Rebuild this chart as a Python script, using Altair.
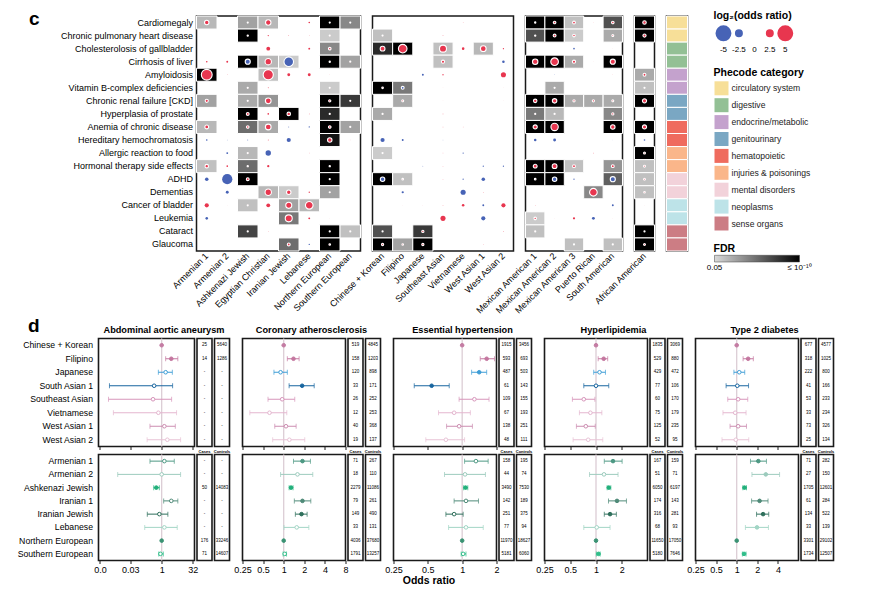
import altair as alt
import pandas as pd

FONT = "Liberation Sans"
RED = "#e8364f"
BLUE = "#4763b6"
FRAME = "#1a1a1a"
REFLINE = "#dccdd5"

# ---------------- panel c data ----------------
phenotypes = ["Cardiomegaly", "Chronic pulmonary heart disease", "Cholesterolosis of gallbladder",
              "Cirrhosis of liver", "Amyloidosis", "Vitamin B-complex deficiencies",
              "Chronic renal failure [CKD]", "Hyperplasia of prostate", "Anemia of chronic disease",
              "Hereditary hemochromatosis", "Allergic reaction to food", "Hormonal therapy side effects",
              "ADHD", "Dementias", "Cancer of bladder", "Leukemia", "Cataract", "Glaucoma"]
phecode_of_row = ["circulatory system", "circulatory system", "digestive", "digestive",
                  "endocrine/metabolic", "endocrine/metabolic", "genitourinary", "genitourinary",
                  "hematopoietic", "hematopoietic", "injuries & poisonings", "injuries & poisonings",
                  "mental disorders", "mental disorders", "neoplasms", "neoplasms",
                  "sense organs", "sense organs"]
category_names = ["circulatory system", "digestive", "endocrine/metabolic", "genitourinary",
                  "hematopoietic", "injuries & poisonings", "mental disorders", "neoplasms", "sense organs"]
category_colors = ["#f7df98", "#93c095", "#c4a2cd", "#7aa7c3", "#ef6b5e", "#fab68a", "#f2d2da",
                   "#bde3e8", "#cc7d84"]

# -log10(FDR) shading (0 = not significant) and log2(odds ratio) per cell
g1_cols = ["Armenian 1", "Armenian 2", "Ashkenazi Jewish", "Egyptian Christian", "Iranian Jewish",
           "Lebanese", "Northern European", "Southern European"]
g1_fdr = [[2.5, 0, 3.3, 2.5, 0, 0, 10, 4.3],
          [0, 0, 10, 0, 0, 0, 1.8, 0],
          [0, 0, 0, 0, 0, 0, 4.3, 0],
          [0, 0, 10, 2.5, 1.8, 0, 10, 3.3],
          [10, 0, 0, 2.2, 0, 0, 0, 0],
          [0, 0, 3.0, 0, 0, 0, 1.8, 0],
          [3.3, 0, 3.0, 3.8, 0, 0, 10, 7.6],
          [0, 0, 10, 0, 10, 0, 8.3, 0],
          [2.5, 0, 5.4, 3.0, 0, 0, 10, 3.3],
          [0, 0, 0, 0, 0, 0, 9.4, 0],
          [0, 0, 2.5, 0, 0, 0, 0, 0],
          [2.2, 0, 5.4, 0, 0, 0, 10, 0],
          [0, 0, 10, 0, 0, 0, 10, 0],
          [0, 0, 0, 2.5, 1.8, 0, 3.3, 0],
          [0, 0, 2.2, 0, 3.3, 2.5, 0, 0],
          [0, 0, 0, 0, 4.9, 0, 0, 0],
          [0, 0, 7.1, 0, 0, 0, 10, 2.2],
          [0, 0, 0, 0, 5.4, 0, 10, 0]]
g1_lor = [[1.4, 0, 0.35, 1.7, 0, 0.5, 0.35, 0.35],
          [0, 0, 0.4, 0.4, 0.2, 0.15, 0.35, 0],
          [0, 0, 0, 1.2, 0, 0.6, 0.8, 0],
          [0.5, 0.6, -1.6, 2.0, -3.0, 0, 0.4, 0.35],
          [3.4, 0.15, 0, 3.2, 0.9, 0.9, 0.1, 0],
          [0, 0, 0.35, 0.3, 0, 0, 0.35, 0],
          [1.0, 0, 0.35, 1.8, 0, 0, 0.7, 0.35],
          [0, 0, 0.9, 0.5, 1.1, 0.2, 0.35, 0],
          [1.2, 0, 0.8, 1.8, -0.3, -0.4, 0.8, 0.35],
          [-0.5, -0.2, -0.3, 0.3, -1.3, 0, 1.4, 0.1],
          [0, -0.6, 0.35, -1.7, 0, 0.15, 0, 0],
          [1.1, 0.5, 0.4, 0.7, 0, 0, 0.4, 0],
          [-1.1, -3.2, 0.9, 0, 0, 0, 0.35, 0],
          [0, -0.9, 0, 2.0, 1.4, 0.4, 0.35, 0],
          [1.3, 0.1, 0.35, 1.2, 1.9, 2.4, 0, 0],
          [-0.8, 0, 0, 0, 2.2, 0.6, 0.1, 0],
          [0, 0, 0.35, 0.15, 0, 0, 0.35, 0.35],
          [0, 0, 0, 0, 0.9, -0.4, 0.5, 0]]

g2_cols = ["Chinese + Korean", "Filipino", "Japanese", "Southeast Asian", "Vietnamese",
           "West Asian 1", "West Asian 2"]
g2_fdr = [[0, 0, 0, 0, 0, 0, 0],
          [2.2, 0, 0, 0, 0, 0, 0],
          [8.3, 10, 0, 2.2, 0, 2.5, 0],
          [0, 0, 0, 2.2, 0, 0, 0],
          [0, 0, 0, 0, 0, 0, 0],
          [10, 4.9, 0, 0, 0, 0, 0],
          [0, 3.0, 0, 0, 0, 0, 0],
          [3.0, 0, 0, 0, 0, 0, 0],
          [0, 0, 0, 0, 0, 0, 0],
          [0, 0, 0, 0, 0, 0, 0],
          [1.8, 0, 0, 0, 0, 0, 0],
          [0, 0, 0, 0, 0, 0, 0],
          [10, 2.2, 0, 0, 0, 0, 0],
          [0, 0, 0, 0, 0, 0, 0],
          [0, 0, 0, 0, 0, 0, 0],
          [0, 0, 0, 0, 0, 0, 0],
          [6.6, 0, 7.6, 0, 0, 0, 0],
          [10, 3.3, 10, 0, 0, 0, 0]]
g2_lor = [[0, 0, 0, 0, 0.15, 0, 0],
          [0.35, 0, 0, 0.2, 0, 0, 0],
          [1.5, 2.7, 0, 2.2, 0.8, 1.8, 0.4],
          [0, 0, 0, 1.0, 0, 0, -0.8],
          [0, 0, -0.6, 0.4, 0, 0, 1.6],
          [0.5, -0.9, 0, 0.1, 0, 0, 0.1],
          [0, 0.6, 0, 0.1, 0, 0, 0.1],
          [0.35, 0, 0, 0.2, 0, 0, 0],
          [0, 0, 0, 0.2, 0.15, 0, 0],
          [-1.3, -0.6, 0, -0.15, 0, 0, 0],
          [0.35, 0, 0, 0.15, -0.4, 0, 0],
          [0, 0, -0.2, 0.15, 0, -0.4, -0.4],
          [-1.4, 0.5, 0, 0.15, -0.4, -1.1, 0],
          [0, -0.7, 0, 0, -1.6, 0.2, 0],
          [0, 0.1, 0.1, 0.2, 0.8, -0.6, 1.3],
          [0, 0, 0, 1.6, 0, -1.3, 0],
          [0.35, 0, 0.7, 0, 0, 0, 0.2],
          [0.7, 0.5, 0.7, 0, 0, 0.15, 0]]

g3_cols = ["Mexican American 1", "Mexican American 2", "Mexican American 3", "Puerto Rican",
           "South American"]
g3_fdr = [[10, 10, 2.2, 0, 6.6],
          [6.6, 10, 1.8, 0, 3.0],
          [0, 0, 0, 0, 0],
          [10, 10, 3.0, 0, 10],
          [0, 0, 0, 0, 0],
          [0, 3.0, 0, 0, 0],
          [10, 10, 3.0, 3.0, 3.0],
          [4.9, 2.5, 0, 0, 4.3],
          [10, 10, 0, 0, 10],
          [0, 0, 0, 0, 0],
          [0, 0, 0, 0, 0],
          [10, 10, 2.2, 0, 3.8],
          [10, 10, 0, 0, 5.9],
          [0, 0, 0, 4.3, 0],
          [0, 0, 0, 0, 0],
          [1.8, 0, 0, 0, 0],
          [2.2, 0, 0, 0, 0],
          [0, 0, 2.2, 0, 2.2]]
g3_lor = [[0.4, 0.8, 0.9, 0.1, 0.8],
          [0.4, 0.9, 0.8, 0, 0.6],
          [0, 0, -0.5, 0, 0.1],
          [1.7, 2.4, 1.0, 0.1, 1.6],
          [0, -0.15, 0, 0, 0.1],
          [0, 0.35, 0, 0, 0],
          [1.1, 1.4, 0.7, 0.7, 0.6],
          [0.35, 0.35, 0, 0, 0.7],
          [1.3, 2.3, 0, 0, 1.4],
          [-0.8, -0.9, 0, 0, -0.1],
          [0, 0, 0, 0.2, 0],
          [1.2, 1.5, 0.9, 0, 0.9],
          [0.5, -1.4, -0.4, 0, -1.6],
          [0, 0, 0, 2.4, 0],
          [0.15, 0, 0, 0, -0.6],
          [0.8, 0.1, 0.7, -0.9, 0.1],
          [0.35, 0, 0, 0, 0],
          [0, 0, 0.35, 0, 0.35]]

g4_cols = ["African American"]
g4_fdr = [[10], [10], [0], [0], [3.0], [2.2], [10], [0], [10], [0], [10], [2.2], [2.2], [2.2],
          [0], [0], [10], [10]]
g4_lor = [[1.1], [1.0], [0], [0], [0.9], [0.35], [1.3], [0], [1.3], [-0.5], [0.6], [0.6], [0.6],
          [0.5], [0.1], [0], [0.35], [0.6]]

lor_legend_vals = [-5, -2.5, 2.5, 5]
lor_legend_ticks = [-5, -2.5, 0, 2.5, 5]
lor_legend_labels = ["-5", "-2.5", "0", "2.5", "5"]
legend_titles = ["log\u2082(odds ratio)", "Phecode category", "FDR"]
fdr_legend_labels = ["0.05", "\u2264 10\u207b\u00b9\u2070"]

# ---------------- panel d data ----------------
upper_groups = ["Chinese + Korean", "Filipino", "Japanese", "South Asian 1", "Southeast Asian",
                "Vietnamese", "West Asian 1", "West Asian 2"]
upper_colors = ["#c47ca3", "#c4769f", "#3d9dd6", "#17659f", "#d795bb", "#e4b6cf", "#cc8cb0", "#e8c3d6"]
lower_groups = ["Armenian 1", "Armenian 2", "Ashkenazi Jewish", "Iranian 1", "Iranian Jewish",
                "Lebanese", "Northern European", "Southern European"]
lower_colors = ["#4d9883", "#9ccbbd", "#22b07b", "#4f8a78", "#2e6f5b", "#a2d5c5", "#3a9273", "#30be8a"]

N = None
AAA = dict(
    up_or=[1, 2.93, 1.56, 0.43, 0.38, 0.69, 1.35, 1.88],
    up_lo=[N, 1.56, 0.69, 0.0029, 0.0026, 0.0045, 0.27, 0.196],
    up_hi=[N, 6.1, 3.3, 3.4, 3.04, 5.3, 4.6, 8.3],
    up_fill=[1, 1, 0, 0, 0, 0, 0, 0],
    up_cases=["25", "14", "-", "-", "-", "-", "-", "-"],
    up_ctrl=["5640", "1286", "-", "-", "-", "-", "-", "-"],
    lo_or=[1.35, 1.0, 0.55, 2.93, 0.77, 1.35, 1, 0.87],
    lo_lo=[0.27, 0.0073, 0.41, 1.25, 0.2, 0.15, N, 0.72],
    lo_hi=[4.1, 8.3, 0.77, 6.1, 2.0, 5.7, N, 1.2],
    lo_fill=[0, 0, 1, 0, 0, 0, 1, 0],
    lo_cases=["-", "-", "50", "-", "-", "-", "176", "71"],
    lo_ctrl=["-", "-", "14083", "-", "-", "-", "33246", "14607"])
COR = dict(
    up_or=[1, 1.39, 0.9, 1.86, 0.95, 0.62, 1.08, 1.21],
    up_lo=[N, 1.13, 0.72, 1.2, 0.59, 0.32, 0.74, 0.69],
    up_hi=[N, 1.68, 1.13, 2.79, 1.45, 1.11, 1.52, 2.03],
    up_fill=[1, 1, 0, 1, 0, 0, 0, 0],
    up_cases=["519", "158", "120", "33", "26", "12", "40", "19"],
    up_ctrl=["4845", "1203", "898", "171", "252", "253", "368", "137"],
    lo_or=[1.88, 1.59, 1.28, 1.88, 1.82, 1.55, 1, 1.035],
    lo_lo=[1.39, 0.9, 1.2, 1.43, 1.48, 1.01, N, 0.98],
    lo_hi=[2.46, 2.66, 1.37, 2.49, 2.2, 2.33, N, 1.1],
    lo_fill=[1, 0, 1, 1, 1, 0, 1, 0],
    lo_cases=["71", "18", "2279", "79", "149", "33", "4036", "1791"],
    lo_ctrl=["267", "110", "11086", "261", "490", "131", "37680", "13257"])
EH = dict(
    up_or=[1, 1.64, 1.41, 0.54, 1.28, 0.85, 0.94, 0.72],
    up_lo=[N, 1.44, 1.21, 0.38, 0.94, 0.62, 0.73, 0.48],
    up_hi=[N, 1.92, 1.64, 0.77, 1.72, 1.18, 1.23, 1.05],
    up_fill=[1, 1, 1, 1, 0, 0, 0, 0],
    up_cases=["1915", "593", "487", "61", "109", "67", "138", "48"],
    up_ctrl=["3456", "693", "503", "143", "155", "193", "251", "111"],
    lo_or=[1.32, 1.06, 1.07, 1.08, 0.85, 1.08, 1, 1.02],
    lo_lo=[1.05, 0.7, 1.03, 0.85, 0.72, 0.76, N, 0.98],
    lo_hi=[1.69, 1.6, 1.12, 1.39, 1.02, 1.53, N, 1.08],
    lo_fill=[0, 0, 1, 0, 0, 0, 1, 0],
    lo_cases=["158", "44", "3490", "142", "251", "77", "11970", "5181"],
    lo_ctrl=["195", "74", "7530", "189", "375", "94", "18627", "6060"])
HL = dict(
    up_or=[1, 1.23, 1.1, 1.0, 0.72, 0.86, 0.76, 0.81],
    up_lo=[N, 1.06, 0.94, 0.72, 0.53, 0.64, 0.59, 0.54],
    up_hi=[N, 1.37, 1.29, 1.41, 0.97, 1.17, 0.98, 1.2],
    up_fill=[1, 1, 0, 0, 0, 0, 0, 0],
    up_cases=["1835", "529", "429", "77", "60", "75", "125", "52"],
    up_ctrl=["3069", "880", "472", "106", "170", "179", "235", "95"],
    lo_or=[1.58, 1.24, 1.41, 1.76, 1.46, 1.02, 1, 1.07],
    lo_lo=[1.25, 0.84, 1.35, 1.4, 1.25, 0.72, N, 1.01],
    lo_hi=[2.02, 1.81, 1.49, 2.27, 1.73, 1.46, N, 1.12],
    lo_fill=[1, 0, 1, 1, 1, 0, 1, 1],
    lo_cases=["167", "51", "6050", "174", "316", "68", "11650", "5180"],
    lo_ctrl=["159", "71", "6197", "143", "281", "93", "17050", "7646"])
T2D = dict(
    up_or=[1, 1.47, 1.09, 1.02, 1.05, 0.95, 1.05, 0.97],
    up_lo=[N, 1.24, 0.91, 0.7, 0.74, 0.63, 0.8, 0.61],
    up_hi=[N, 1.75, 1.31, 1.49, 1.45, 1.37, 1.39, 1.5],
    up_fill=[1, 1, 0, 0, 0, 0, 0, 0],
    up_cases=["677", "318", "222", "41", "53", "33", "73", "25"],
    up_ctrl=["4577", "1025", "800", "166", "233", "234", "326", "134"],
    lo_or=[2.07, 2.66, 1.3, 2.16, 2.43, 1.98, 1, 1.28],
    lo_lo=[1.59, 1.67, 1.23, 1.65, 1.95, 1.34, N, 1.21],
    lo_hi=[2.72, 4.23, 1.39, 2.87, 2.94, 2.91, N, 1.37],
    lo_fill=[1, 1, 1, 1, 1, 1, 1, 1],
    lo_cases=["71", "27", "1705", "61", "134", "33", "3301", "1734"],
    lo_ctrl=["282", "150", "12601", "284", "522", "139", "29102", "12507"])

disease_names = ["Abdominal aortic aneurysm", "Coronary atherosclerosis", "Essential hypertension",
                 "Hyperlipidemia", "Type 2 diabetes"]
disease_data = [AAA, COR, EH, HL, T2D]
disease_domains = [[0.00085, 39.4], [0.25, 8], [0.25, 2], [0.25, 4], [0.25, 8]]
disease_ticks = [[0.001, 0.03, 1, 32], [0.25, 0.5, 1, 2, 4, 8], [0.25, 0.5, 1, 2], [0.25, 0.5, 1, 2],
                 [0.25, 0.5, 1, 2, 4]]

# ---------------- helpers ----------------
IND = dict(color="independent", fill="independent", stroke="independent", size="independent")
size_scale = alt.Scale(type="pow", exponent=2, domain=[0, 5], range=[0, 254])
sign_scale = alt.Scale(domain=["pos", "neg"], range=[RED, BLUE])
fdr_scale = alt.Scale(domain=[1.3, 10], range=["#d9d9d9", "#000000"], clamp=True)
H_C = 235
COLSP = 2.5
X0 = 10  # page x where each row's leading blank begins


def frame(w=1.5):
    return alt.ViewBackground(stroke=FRAME, strokeWidth=w)


def at(px):
    """scale placing the single value 0 at a given pixel offset"""
    return alt.Scale(domain=[0, 1], range=[px, px + 1])


def blank(width, height=1):
    return alt.Chart(pd.DataFrame({"a": [0]})).mark_point(opacity=0).properties(width=width, height=height)


def label_layer(text, x, y, size, align="center", weight="bold"):
    return alt.Chart(pd.DataFrame({"t": [text], "z": [0]})).mark_text(
        align=align, baseline="alphabetic", fontSize=size, fontWeight=weight, color="black").encode(
        x=alt.X("z:Q", scale=at(x), axis=None), y=alt.Y("z:Q", scale=at(y), axis=None), text="t:N")


def lead(width, height, top, letter=None, lx=0, ly=0):
    anchor = alt.Chart(pd.DataFrame({"a": [0], "b": [1]})).mark_rect(opacity=0).encode(
        y=alt.Y("a:Q", scale=alt.Scale(domain=[0, 1], range=[top, height]), axis=None), y2="b:Q")
    layers = [anchor]
    if letter is not None:
        layers.append(label_layer(letter, lx, ly, 19, align="left"))
    return alt.layer(*layers).resolve_scale(x="independent", y="independent").properties(
        width=width, height=height)


def cell_table(cols, fdr, lor):
    recs = []
    for i, ph in enumerate(phenotypes):
        for j, col in enumerate(cols):
            recs.append({"row": ph, "col": col, "fdr": fdr[i][j], "lor": lor[i][j]})
    return pd.DataFrame(recs)


def group_chart(cols, fdr, lor, width, show_y):
    df = cell_table(cols, fdr, lor)
    xenc = alt.X("col:N", scale=alt.Scale(domain=cols, paddingInner=0, paddingOuter=0),
                 axis=alt.Axis(title=None, labelAngle=315, labelAlign="right", labelBaseline="middle",
                               ticks=False, domain=False, labelPadding=3, labelFontSize=9,
                               labelColor="black"))
    ysc = alt.Scale(domain=phenotypes, paddingInner=0, paddingOuter=0)
    if show_y:
        yenc = alt.Y("row:N", scale=ysc,
                     axis=alt.Axis(title=None, ticks=False, domain=False, labelPadding=4,
                                   labelFontSize=9, labelColor="black", labelLimit=300))
    else:
        yenc = alt.Y("row:N", scale=ysc, axis=None)
    base = alt.Chart(df)
    rect = base.transform_filter("datum.fdr > 0").mark_rect(stroke="white", strokeWidth=1).encode(
        x=xenc, y=yenc, fill=alt.Fill("fdr:Q", scale=fdr_scale, legend=None))
    dots = base.transform_filter("datum.lor != 0").transform_calculate(
        mag="abs(datum.lor)", sgn="datum.lor > 0 ? 'pos' : 'neg'"
    ).mark_circle(opacity=1, stroke="white").encode(
        x=xenc, y=yenc,
        size=alt.Size("mag:Q", scale=size_scale, legend=None),
        color=alt.Color("sgn:N", scale=sign_scale, legend=None),
        strokeWidth=alt.condition("datum.fdr > 0", alt.value(1.1), alt.value(0)))
    return alt.layer(rect, dots).properties(width=width, height=H_C, view=frame())


g1 = group_chart(g1_cols, g1_fdr, g1_lor, 164, True)
g2 = group_chart(g2_cols, g2_fdr, g2_lor, 141, False)
g3 = group_chart(g3_cols, g3_fdr, g3_lor, 97, False)
g4 = group_chart(g4_cols, g4_fdr, g4_lor, 20, False)

strip = alt.Chart(pd.DataFrame({"row": phenotypes, "cat": phecode_of_row})).mark_rect(
    stroke="white", strokeWidth=1).encode(
    y=alt.Y("row:N", scale=alt.Scale(domain=phenotypes, paddingInner=0, paddingOuter=0), axis=None),
    fill=alt.Fill("cat:N", scale=alt.Scale(domain=category_names, range=category_colors), legend=None)
).properties(width=21, height=H_C, view=frame())

# ---------------- legend column (one view, layered) ----------------
lx = alt.Scale(domain=[-6.45, 7.3], range=[0, 85], nice=False, zero=False)
ly = at(17.3)
leg_pts = alt.Chart(pd.DataFrame({"v": lor_legend_vals, "k": [0] * 4})).transform_calculate(
    mag="abs(datum.v)", sgn="datum.v > 0 ? 'pos' : 'neg'").mark_circle(opacity=1).encode(
    x=alt.X("v:Q", scale=lx, axis=None), y=alt.Y("k:Q", scale=ly, axis=None),
    size=alt.Size("mag:Q", scale=size_scale, legend=None),
    color=alt.Color("sgn:N", scale=sign_scale, legend=None))
leg_txt = alt.Chart(pd.DataFrame({"v": lor_legend_ticks, "t": lor_legend_labels, "k": [0] * 5})).mark_text(
    dy=17, fontSize=8, color="black").encode(
    x=alt.X("v:Q", scale=lx, axis=None), y=alt.Y("k:Q", scale=ly, axis=None), text="t:N")
leg_titles = alt.Chart(pd.DataFrame({"t": legend_titles, "k": [0, 1, 2], "z": [0, 0, 0]})).mark_text(
    align="left", baseline="alphabetic", fontSize=10.5, fontWeight="bold", color="black").encode(
    x=alt.X("z:Q", scale=alt.Scale(domain=[0, 1], range=[-1, 0]), axis=None),
    y=alt.Y("k:Q", scale=alt.Scale(domain=[0, 1, 2], range=[2.5, 59.5, 235.5]), axis=None),
    text="t:N")
cat_y = alt.Scale(domain=category_names, range=[63.85, 215.95], paddingInner=0, paddingOuter=0)
cat_df = pd.DataFrame({"cat": category_names, "z": [0] * len(category_names)})
cat_sw = alt.Chart(cat_df).mark_square(size=196, opacity=1).encode(
    x=alt.X("z:Q", scale=at(7), axis=None), y=alt.Y("cat:N", scale=cat_y, axis=None),
    fill=alt.Fill("cat:N", scale=alt.Scale(domain=category_names, range=category_colors), legend=None))
cat_tx = alt.Chart(cat_df).mark_text(align="left", dx=10, fontSize=8.6, color="#222").encode(
    x=alt.X("z:Q", scale=at(7), axis=None), y=alt.Y("cat:N", scale=cat_y, axis=None), text="cat:N")
gx = alt.Scale(domain=[0, 1], range=[0, 85], nice=False, zero=False)
gy = alt.Scale(domain=[0, 1], range=[239.3, 246], nice=False, zero=False)
fdr_bar = alt.Chart(pd.DataFrame({"a": [0], "b": [1], "c": [0], "d": [1]})).mark_rect(
    color={"gradient": "linear", "x1": 0, "y1": 0, "x2": 1, "y2": 0,
           "stops": [{"offset": 0, "color": "#d9d9d9"}, {"offset": 1, "color": "#000000"}]},
    stroke="#444", strokeWidth=0.5).encode(
    x=alt.X("a:Q", scale=gx, axis=None), x2="b:Q", y=alt.Y("c:Q", scale=gy, axis=None), y2="d:Q")
fdr_txt = alt.Chart(pd.DataFrame({"p": [0, 1], "t": fdr_legend_labels, "c": [0.5, 0.5]})).mark_text(
    dy=9.5, fontSize=8, color="black").encode(
    x=alt.X("p:Q", scale=gx, axis=None), y=alt.Y("c:Q", scale=gy, axis=None), text="t:N")
legend_view = alt.layer(leg_pts, leg_txt, leg_titles, cat_sw, cat_tx, fdr_bar, fdr_txt).resolve_scale(
    x="independent", y="independent", color="independent", fill="independent", size="independent"
).properties(width=110, height=246)


# ---------------- panel d ----------------
def forest(groups, colors, d, part, dom, ticks, width, height, show_y, lower, k):
    df = pd.DataFrame({"g": groups, "or": d[part + "_or"], "lo": d[part + "_lo"],
                       "hi": d[part + "_hi"], "f": d[part + "_fill"]})
    gs = alt.Scale(domain=groups, range=colors)
    xs = alt.Scale(type="log", domain=dom, nice=False)
    if k == 0:
        lexpr = "datum.value < 0.01 ? '0.0' : format(datum.value, '~g')"
    else:
        lexpr = "format(datum.value, '~g')"
    if lower:
        akw = dict(values=ticks, labelExpr=lexpr, labelFontSize=9, labelPadding=2, tickSize=3,
                   domain=False, grid=False, labelFlush=False, labelOverlap=False,
                   labelColor="black", tickColor=FRAME)
        if k == 2:
            akw.update(title="Odds ratio", titleX=35, titleY=20, titleFontSize=10.5,
                       titleFontWeight="bold", titleAlign="center", titleBaseline="middle",
                       titleColor="black")
        else:
            akw.update(title=None)
        ax = alt.Axis(**akw)
    else:
        ax = alt.Axis(values=ticks, labels=False, tickSize=3, domain=False, grid=False,
                      title=None, tickColor=FRAME)
    ys = alt.Scale(domain=groups, paddingInner=0, paddingOuter=0)
    if show_y:
        y = alt.Y("g:N", scale=ys, axis=alt.Axis(title=None, ticks=False, domain=False, labelPadding=6,
                                                 labelFontSize=8.7, labelColor="black", labelLimit=300))
    else:
        y = alt.Y("g:N", scale=ys, axis=None)
    ref = alt.Chart(pd.DataFrame({"r": [1.0]})).mark_rule(color=REFLINE, strokeWidth=1.3).encode(
        x=alt.X("r:Q", scale=xs, axis=ax))
    ci = alt.Chart(df).transform_filter("isValid(datum.lo)")
    bar = ci.mark_rule(strokeWidth=1).encode(
        x=alt.X("lo:Q", scale=xs, axis=ax), x2="hi:Q", y=y,
        stroke=alt.Stroke("g:N", scale=gs, legend=None))
    cap_lo = ci.mark_tick(orient="vertical", size=5, thickness=1).encode(
        x=alt.X("lo:Q", scale=xs, axis=ax), y=y, color=alt.Color("g:N", scale=gs, legend=None))
    cap_hi = ci.mark_tick(orient="vertical", size=5, thickness=1).encode(
        x=alt.X("hi:Q", scale=xs, axis=ax), y=y, color=alt.Color("g:N", scale=gs, legend=None))
    pts = alt.Chart(df).mark_point(size=13, strokeWidth=1, opacity=1, filled=False).encode(
        x=alt.X("or:Q", scale=xs, axis=ax), y=y,
        stroke=alt.Stroke("g:N", scale=gs, legend=None),
        fill=alt.condition("datum.f == 1", alt.Fill("g:N", scale=gs, legend=None), alt.value("white")))
    return alt.layer(ref, bar, cap_lo, cap_hi, pts).properties(width=width, height=height,
                                                               view=frame(1.6))


def count_box(groups, vals, height, extra=None):
    df = pd.DataFrame({"g": groups, "t": vals})
    c = alt.Chart(df).mark_text(fontSize=4.5, color="black").encode(
        y=alt.Y("g:N", scale=alt.Scale(domain=groups, paddingInner=0, paddingOuter=0), axis=None),
        text="t:N")
    layers = [c] + ([extra] if extra is not None else [])
    return alt.layer(*layers).resolve_scale(x="independent", y="independent").properties(
        width=15, height=height, view=frame(1.6))


H_UP, H_LO = 108, 106
lead_w = 98 - X0 - COLSP
row_up = [lead(lead_w, H_UP, -25, "d", 28 - X0, -6.5)]
row_lo = [lead(lead_w, H_LO, 0)]
for k in range(5):
    d = disease_data[k]
    w = 96 if k == 0 else 103
    fu = forest(upper_groups, upper_colors, d, "up", disease_domains[k], disease_ticks[k], w, H_UP,
                k == 0, False, k)
    fl = forest(lower_groups, lower_colors, d, "lo", disease_domains[k], disease_ticks[k], w, H_LO,
                k == 0, True, k)
    if k > 0:
        row_up.append(blank(7.5, H_UP))
        row_lo.append(blank(7.5, H_LO))
    # disease title centred over forest + both count boxes (drawn from the cases box)
    title_x = (w + 35) / 2 - (w + COLSP)
    row_up += [fu, count_box(upper_groups, d["up_cases"], H_UP,
                             label_layer(disease_names[k], title_x, -5.5, 9.2)),
               count_box(upper_groups, d["up_ctrl"], H_UP)]
    row_lo += [fl, count_box(lower_groups, d["lo_cases"], H_LO, label_layer("Cases", 7.5, -1.6, 4)),
               count_box(lower_groups, d["lo_ctrl"], H_LO, label_layer("Controls", 7.5, -1.6, 4))]

panel_d = alt.concat(*(row_up + row_lo), columns=len(row_up), spacing={"row": 8, "column": COLSP},
                     bounds="flush", align="each").resolve_scale(**IND)

row_c = [lead(196 - X0 - COLSP, 305, -7, "c", 29 - X0, 9), g1, blank(7), g2, blank(7), g3, blank(7),
         g4, blank(7), strip, blank(22), legend_view]
panel_c = alt.hconcat(*row_c, spacing=COLSP, bounds="flush").resolve_scale(**IND)

chart = alt.vconcat(panel_c, panel_d, spacing=-7.5).resolve_scale(**IND).properties(
    padding={"left": X0 - 8, "top": 1, "right": 0, "bottom": 0}
).configure(font=FONT).configure_view(strokeWidth=0)

chart.save("out.html", embed_options={"renderer": "svg", "actions": False})
